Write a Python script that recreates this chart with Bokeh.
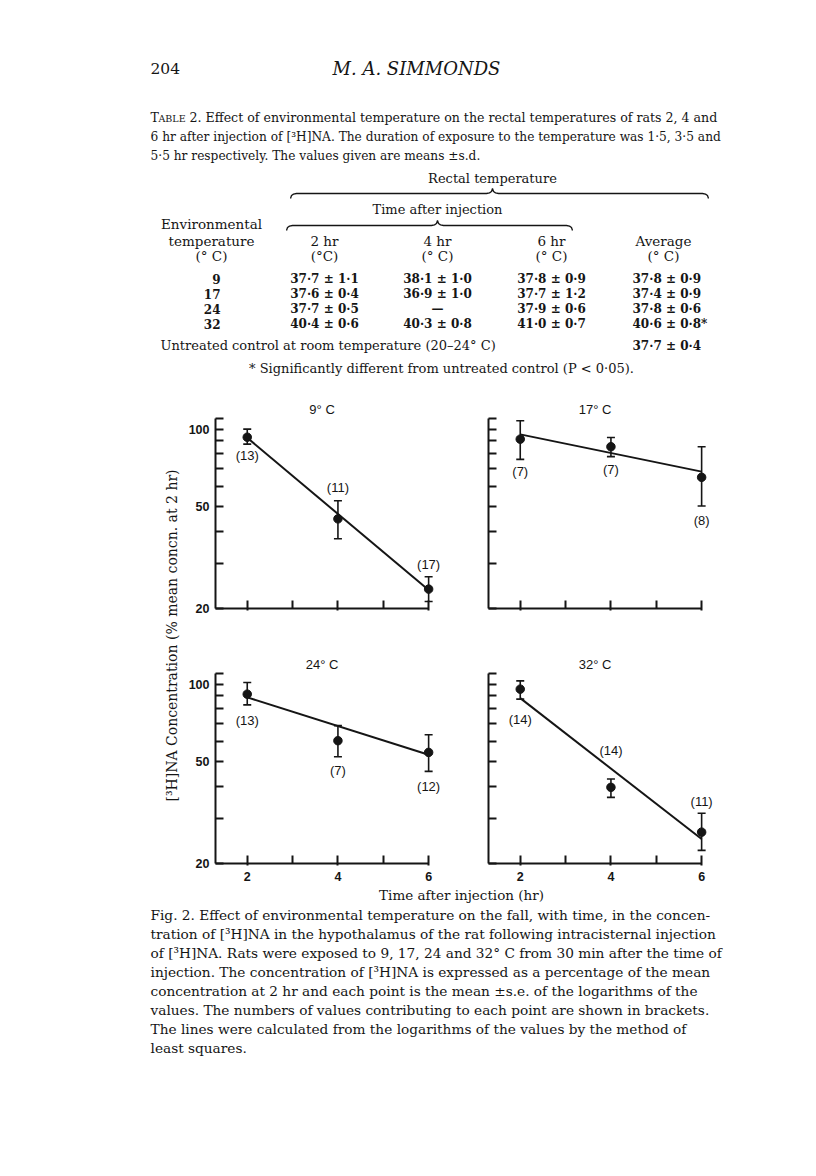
import math
from bokeh.plotting import figure
from bokeh.models import (Range1d, FixedTicker, Whisker, TeeHead, ColumnDataSource,
                          BasicTickFormatter, LabelSet)
from bokeh.layouts import column, row
from bokeh.embed import file_html
from bokeh.resources import INLINE
from bokeh.core.properties import value

# ---------------- data ----------------
times = [2, 4, 6]
panel_titles = ["9° C", "17° C", "24° C", "32° C"]

mean_9 = [93.0, 44.7, 23.8]
upper_9 = [100.0, 52.6, 26.6]
lower_9 = [87.4, 37.4, 21.3]
n_9 = [13, 11, 17]
fit_9 = [92.5, 23.6]

mean_17 = [91.4, 85.4, 64.9]
upper_17 = [107.8, 92.8, 85.4]
lower_17 = [76.2, 78.1, 50.2]
n_17 = [7, 7, 8]
fit_17 = [95.4, 68.3]

mean_24 = [91.4, 60.2, 54.2]
upper_24 = [101.5, 68.9, 63.5]
lower_24 = [83.0, 52.1, 45.7]
n_24 = [13, 7, 12]
fit_24 = [88.8, 53.1]

mean_32 = [95.6, 39.6, 26.5]
upper_32 = [103.0, 42.7, 31.4]
lower_32 = [87.4, 36.2, 22.5]
n_32 = [14, 14, 11]
fit_32 = [88.2, 24.9]

y_major_ticks = [20, 50, 100]
y_minor_ticks = [30, 40, 60, 70, 80, 90, 110]
x_major_ticks = [2, 4, 6]
x_minor_ticks = [3, 5]

env_temp = [9, 17, 24, 32]
rt_2hr_mean = [37.7, 37.6, 37.7, 40.4]
rt_2hr_sd = [1.1, 0.4, 0.5, 0.6]
rt_4hr_mean = [38.1, 36.9, None, 40.3]
rt_4hr_sd = [1.0, 1.0, None, 0.8]
rt_6hr_mean = [37.8, 37.7, 37.9, 41.0]
rt_6hr_sd = [0.9, 1.2, 0.6, 0.7]
rt_avg_mean = [37.8, 37.4, 37.8, 40.6]
rt_avg_sd = [0.9, 0.9, 0.6, 0.8]
rt_avg_signif = [False, False, False, True]
control_mean = 37.7
control_sd = 0.4

caption_lines = [
    "Fig. 2.  Effect of environmental temperature on the fall, with time, in the concen-",
    "tration of [³H]NA in the hypothalamus of the rat following intracisternal injection",
    "of [³H]NA. Rats were exposed to 9, 17, 24 and 32° C from 30 min after the time of",
    "injection. The concentration of [³H]NA is expressed as a percentage of the mean",
    "concentration at 2 hr and each point is the mean ±s.e. of the logarithms of the",
    "values. The numbers of values contributing to each point are shown in brackets.",
    "The lines were calculated from the logarithms of the values by the method of",
    "least squares.",
]

# ---------------- style / layout ----------------
INK = "#151515"
SERIF = "DejaVu Serif"
SANS = "Liberation Sans"
# label offsets from the points, in screen pixels (positive = downwards)
label_dy = [[18, -31, -25], [32, 23, 43], [26, 30, 34], [30, -37, -31]]
FRAME_H = 190
FRAME_W = 229
Y_LO, Y_HI = 20, 110
X_LO, X_HI, X_AXIS_END = 1.3, 6.35, 6.0
PX_PER_DECADE = FRAME_H / math.log10(Y_HI / Y_LO)
TITLE_SIZE = 13
# approximate advance widths (em) of Liberation Sans, used to centre the titles
SANS_EM = {"°": 0.4, " ": 0.278, "C": 0.722}


def text_fig(w, h, x0, y0):
    p = figure(width=w, height=h, x_range=Range1d(x0, x0 + w), y_range=Range1d(y0 + h, y0),
               output_backend="svg", toolbar_location=None, min_border=0,
               x_axis_location=None, y_axis_location=None)
    p.grid.visible = False
    p.outline_line_color = None
    return p


def put(p, x, y, s, size=13, font=SERIF, style="normal", align="left", angle=0.0):
    p.text(x=[x], y=[y], text=[s], text_font=value(font), text_font_size=f"{size}px",
           text_font_style=style, text_align=align, text_baseline="middle",
           angle=angle, text_color=INK)


def brace(p, x0, x1, xm, y, d=5):
    xs = [x0, x0 + 1, x0 + 3, x0 + 6, xm - 6, xm - 3, xm - 1, xm,
          xm + 1, xm + 3, xm + 6, x1 - 6, x1 - 3, x1 - 1, x1]
    ys = [y + d, y + 2, y + 0.6, y, y, y - 0.6, y - 2, y - d,
          y - 2, y - 0.6, y, y, y + 0.6, y + 2, y + d]
    p.line(xs, ys, line_color=INK, line_width=1.3)


def fmt(m, s, star=False):
    if m is None:
        return "—"
    t = f"{m:.1f} ± {s:.1f}".replace(".", "·")
    return t + ("*" if star else "")


# ---------------- header & table ----------------
header = text_fig(816, 398, 0, 0)
put(header, 150, 68, "204", 15.5)
put(header, 416, 68, "M. A. SIMMONDS", 18, style="italic", align="center")
put(header, 150, 117, "T", 12.5)
put(header, 158, 118, "ABLE", 9.5)
put(header, 189, 117, "2.  Effect of environmental temperature on the rectal temperatures of rats 2, 4 and", 12.6)
put(header, 150, 136, "6 hr after injection of [³H]NA. The duration of exposure to the temperature was 1·5, 3·5 and", 12.2)
put(header, 150, 155, "5·5 hr respectively. The values given are means ±s.d.", 12.2)

put(header, 492, 178, "Rectal temperature", 13, align="center")
brace(header, 290, 708, 492, 193)
put(header, 437, 209, "Time after injection", 13, align="center")
brace(header, 286, 572, 437, 225)

put(header, 211, 223, "Environmental", 13.5, align="center")
put(header, 211, 240, "temperature", 13.5, align="center")
put(header, 211, 255, "(° C)", 13.5, align="center")
col_x = [324, 437, 551]
for cx, h1, h2 in zip(col_x, ["2 hr", "4 hr", "6 hr"], ["(°C)", "(° C)", "(° C)"]):
    put(header, cx, 240, h1, 13.5, align="center")
    put(header, cx, 255, h2, 13.5, align="center")
put(header, 663, 240, "Average", 13.5, align="center")
put(header, 663, 255, "(° C)", 13.5, align="center")

for i, t in enumerate(env_temp):
    yy = 278 + 15 * i
    put(header, 220, yy, str(t), 12, style="bold", align="right")
    put(header, col_x[0], yy, fmt(rt_2hr_mean[i], rt_2hr_sd[i]), 12, style="bold", align="center")
    put(header, col_x[1], yy, fmt(rt_4hr_mean[i], rt_4hr_sd[i]), 12, style="bold", align="center")
    put(header, col_x[2], yy, fmt(rt_6hr_mean[i], rt_6hr_sd[i]), 12, style="bold", align="center")
    put(header, 632, yy, fmt(rt_avg_mean[i], rt_avg_sd[i], rt_avg_signif[i]), 12, style="bold")
put(header, 160, 345, "Untreated control at room temperature (20–24° C)", 13)
put(header, 632, 345, fmt(control_mean, control_sd), 12, style="bold")
put(header, 441, 368, "* Significantly different from untreated control (P < 0·05).", 13, align="center")

# ---------------- y label column ----------------
ylab = text_fig(185, 488, 0, 398)
put(ylab, 171, 635, "[³H]NA Concentration (% mean concn. at 2 hr)", 14, align="center", angle=math.pi / 2)


# ---------------- panels ----------------
def make_panel(k, mean, upper, lower, n, fit, w, h, bl, bt, bb, show_y, show_x):
    br = w - bl - FRAME_W
    p = figure(width=w, height=h, x_range=Range1d(X_LO, X_HI), y_range=Range1d(Y_LO, Y_HI),
               y_axis_type="log", output_backend="svg", toolbar_location=None,
               min_border_left=bl, min_border_right=br, min_border_top=bt, min_border_bottom=bb,
               title=panel_titles[k])
    p.outline_line_color = None
    p.grid.visible = False
    # centre the title over the drawn axis (x = 1.3 .. 6.0)
    title_w = sum(SANS_EM.get(c, 0.556) for c in panel_titles[k]) * TITLE_SIZE
    axis_mid = FRAME_W * (X_AXIS_END - X_LO) / (X_HI - X_LO) / 2
    p.title.align = "left"
    p.title.offset = axis_mid - title_w / 2
    p.title.text_font = SANS
    p.title.text_font_size = f"{TITLE_SIZE}px"
    p.title.text_font_style = "normal"
    p.title.text_color = INK
    p.title.standoff = 3
    xa = p.xaxis[0]
    ya = p.yaxis[0]
    xa.bounds = (X_LO, X_AXIS_END)
    xa.ticker = FixedTicker(ticks=x_major_ticks, minor_ticks=x_minor_ticks)
    ya.ticker = FixedTicker(ticks=y_major_ticks, minor_ticks=y_minor_ticks)
    ya.formatter = BasicTickFormatter()
    for ax in (xa, ya):
        ax.axis_line_width = 2
        ax.axis_line_color = INK
        ax.major_tick_line_width = 2
        ax.minor_tick_line_width = 2
        ax.major_tick_line_color = INK
        ax.minor_tick_line_color = INK
        ax.major_label_text_font = SANS
        ax.major_label_text_font_size = "12.5px"
        ax.major_label_text_font_style = "bold"
        ax.major_label_text_color = INK
    xa.major_tick_in = 8
    xa.major_tick_out = 2
    xa.minor_tick_in = 8
    xa.minor_tick_out = 0
    ya.major_tick_in = 8
    ya.major_tick_out = 0
    ya.minor_tick_in = 8
    ya.minor_tick_out = 0
    xa.major_label_standoff = 6
    ya.major_label_standoff = 6
    if not show_x:
        xa.major_label_text_font_size = "1px"
        xa.major_label_text_color = None
        xa.major_label_standoff = 0
    if not show_y:
        ya.major_label_text_font_size = "1px"
        ya.major_label_text_color = None
        ya.major_label_standoff = 0

    lab_y = [v * 10 ** (-d / PX_PER_DECADE) for v, d in zip(mean, label_dy[k])]
    src = ColumnDataSource(dict(x=times, y=mean, hi=upper, lo=lower,
                                n=[f"({v})" for v in n], ly=lab_y))
    p.line(x=[times[0], times[-1]], y=fit, line_color=INK, line_width=2)
    wh = Whisker(source=src, base="x", upper="hi", lower="lo", line_color=INK, line_width=1.6,
                 upper_head=TeeHead(size=8, line_color=INK, line_width=1.6),
                 lower_head=TeeHead(size=8, line_color=INK, line_width=1.6))
    p.add_layout(wh)
    p.scatter(x="x", y="y", source=src, size=8.5, color=INK)
    labels = LabelSet(x="x", y="ly", text="n", source=src, text_align="center",
                      text_baseline="middle", text_font=value(SANS), text_font_size=value("13px"),
                      text_color=INK)
    p.add_layout(labels)
    return p


p1 = make_panel(0, mean_9, upper_9, lower_9, n_9, fit_9, 275, 227, 30, 20, 17, True, False)
p2 = make_panel(1, mean_17, upper_17, lower_17, n_17, fit_17, 356, 227, 28, 20, 17, False, False)
p3 = make_panel(2, mean_24, upper_24, lower_24, n_24, fit_24, 275, 261, 30, 48, 23, True, True)
p4 = make_panel(3, mean_32, upper_32, lower_32, n_32, fit_32, 356, 261, 28, 48, 23, False, True)

# ---------------- caption ----------------
cap = text_fig(816, 285, 0, 886)
put(cap, 461, 894, "Time after injection (hr)", 13.5, align="center")
for i, line in enumerate(caption_lines):
    put(cap, 150, 914 + 19 * i, line, 13.7)

layout = column(header, row(ylab, column(row(p1, p2), row(p3, p4))), cap)
open("out.html", "w").write(file_html(layout, INLINE))
